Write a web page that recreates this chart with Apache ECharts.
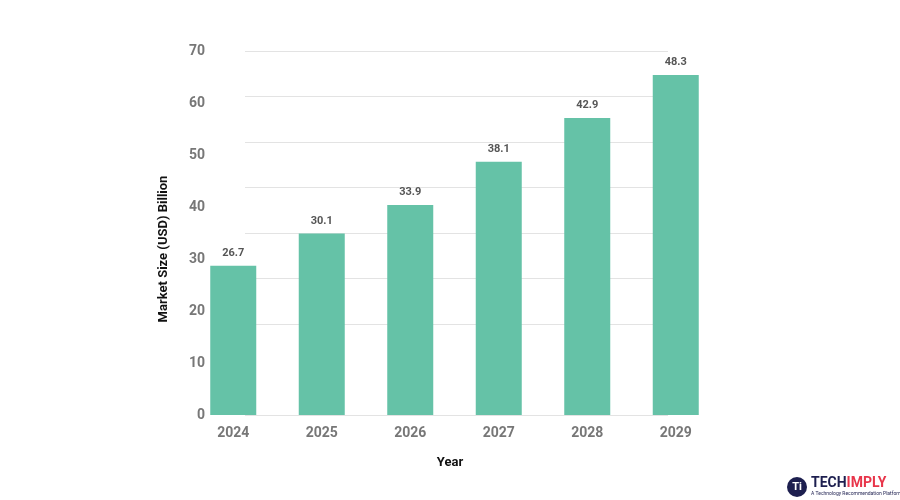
<!DOCTYPE html>
<html>
<head>
<meta charset="utf-8">
<script src="https://cdn.jsdelivr.net/npm/echarts@6/dist/echarts.min.js"></script>
<style>
  html, body { margin: 0; padding: 0; background: #fff; }
  #main { width: 900px; height: 500px; }
</style>
</head>
<body>
<div id="main"></div>
<script>
// values
var years = ['2024', '2025', '2026', '2027', '2028', '2029'];
// bar heights as drawn against the left axis
var barHeights = [28.7, 34.9, 40.4, 48.7, 57.1, 65.4];
// values printed above the bars
var barLabels = ['26.7', '30.1', '33.9', '38.1', '42.9', '48.3'];
var gridColors = ['#e3e3e3', 'rgba(0,0,0,0)', '#e3e3e3', '#e3e3e3', '#e3e3e3',
  '#e3e3e3', '#e3e3e3', '#e3e3e3', '#e3e3e3'];

var chart = echarts.init(document.getElementById('main'));
var font = 'Roboto, "Noto Sans", sans-serif';

chart.setOption({
  animation: false,
  backgroundColor: '#ffffff',
  textStyle: { fontFamily: font },
  grid: [
    { left: 245, right: 232, top: 51, bottom: 85 },
    { left: 189, right: 180, top: 51, bottom: 85 }
  ],
  xAxis: [
    { type: 'value', gridIndex: 0, show: false, min: 0, max: 1 },
    {
      type: 'category', gridIndex: 1, data: years,
      axisLine: { show: false }, axisTick: { show: false },
      axisLabel: { margin: 11, color: '#777777', fontSize: 14, fontWeight: 'bold' }
    }
  ],
  yAxis: [
    {
      type: 'value', gridIndex: 0, min: 0, max: 80, interval: 10,
      axisLabel: { show: false }, axisLine: { show: false }, axisTick: { show: false },
      splitLine: { lineStyle: { color: gridColors, width: 1 } }
    },
    {
      type: 'value', gridIndex: 0, min: 0, max: 70, interval: 10, position: 'left',
      axisLine: { show: false }, axisTick: { show: false }, splitLine: { show: false },
      axisLabel: { margin: 40, color: '#777777', fontSize: 14, fontWeight: 'bold', padding: [0, 0, 4, 0] }
    },
    {
      type: 'value', gridIndex: 1, min: 0, max: 70, show: false, splitLine: { show: false }
    }
  ],
  series: [{
    type: 'bar',
    xAxisIndex: 1,
    yAxisIndex: 2,
    data: barHeights,
    barWidth: 46,
    itemStyle: { color: '#65c2a7' },
    label: {
      show: true, position: 'top', distance: 7,
      color: '#555555', fontSize: 11, fontWeight: 'bold',
      formatter: function (p) { return barLabels[p.dataIndex]; }
    }
  }],
  graphic: [
    {
      type: 'text', x: 164, y: 249, rotation: Math.PI / 2,
      style: { text: 'Market Size (USD) Billion', font: 'bold 13px ' + font, fill: '#111', align: 'center', verticalAlign: 'middle' }
    },
    {
      type: 'text', x: 450, y: 463,
      style: { text: 'Year', font: 'bold 13px ' + font, fill: '#111', align: 'center', verticalAlign: 'middle' }
    },
    { type: 'circle', shape: { cx: 797, cy: 487, r: 10 }, style: { fill: '#1d1f4f' } },
    {
      type: 'text', x: 797, y: 487,
      style: { text: 'Ti', font: 'bold 11px ' + font, fill: '#fff', align: 'center', verticalAlign: 'middle' }
    },
    {
      type: 'text', x: 811, y: 483,
      style: {
        text: '{a|TECH}{b|IMPLY}', verticalAlign: 'middle',
        rich: {
          a: { fontFamily: font, fontWeight: 'bold', fontSize: 14, fill: '#1d1f4f' },
          b: { fontFamily: font, fontWeight: 'bold', fontSize: 14, fill: '#e8354a' }
        }
      }
    },
    {
      type: 'text', x: 811, y: 494,
      style: { text: 'A Technology Recommendation Platform', font: '5px ' + font, fill: '#1d1f4f', verticalAlign: 'middle' }
    }
  ]
});
</script>
</body>
</html>
